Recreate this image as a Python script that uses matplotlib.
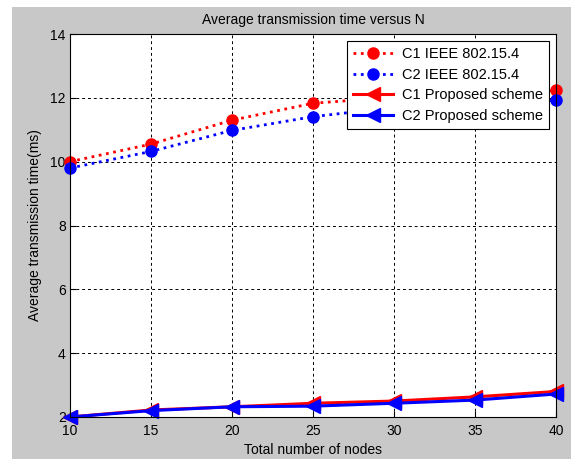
import matplotlib
matplotlib.use("Agg")
import matplotlib.pyplot as plt
from matplotlib.patches import Rectangle

plt.rcParams['font.family'] = ['Liberation Sans', 'DejaVu Sans']

nodes = [10, 15, 20, 25, 30, 35, 40]
c1_ieee = [10.0, 10.55, 11.3, 11.83, 12.02, 12.12, 12.23]
c2_ieee = [9.8, 10.32, 10.98, 11.41, 11.7, 11.82, 11.92]
c1_prop = [2.0, 2.22, 2.32, 2.43, 2.5, 2.63, 2.8]
c2_prop = [2.0, 2.2, 2.32, 2.34, 2.43, 2.53, 2.72]

fig = plt.figure(figsize=(5.71, 4.59), dpi=100)
fig.patch.set_facecolor('white')
# MATLAB style grey background, with a thin white strip top/left
fig.patches.append(Rectangle((12 / 571, 0), 1, 1 - 7 / 459, transform=fig.transFigure,
                             facecolor='#c8c8c8', edgecolor='none', zorder=-10))

ax = fig.add_axes([70 / 571, 42 / 459, 486 / 571, 383 / 459])
ax.set_facecolor('white')

ax.plot(nodes, c1_ieee, ':', color='red', lw=2, marker='o', ms=8, clip_on=False, label='C1 IEEE 802.15.4')
ax.plot(nodes, c2_ieee, ':', color='blue', lw=2, marker='o', ms=8, clip_on=False, label='C2 IEEE 802.15.4')
ax.plot(nodes, c1_prop, '-', color='red', lw=2.2, marker='<', ms=10, clip_on=False, label='C1 Proposed scheme')
ax.plot(nodes, c2_prop, '-', color='blue', lw=2.2, marker='<', ms=10, clip_on=False, label='C2 Proposed scheme')

ax.set_xlim(10, 40)
ax.set_ylim(2, 14)
ax.set_xticks(range(10, 41, 5))
ax.set_yticks(range(2, 15, 2))
ax.grid(True, color='black', linestyle=(0, (3, 3)), linewidth=0.7)
ax.tick_params(direction='in', length=4, labelsize=10, colors='black')
ax.tick_params(axis='x', pad=5)
ax.tick_params(axis='y', pad=3)
for s in ax.spines.values():
    s.set_linewidth(0.8)

ax.set_title('Average transmission time versus N', fontsize=10, pad=7)
ax.set_xlabel('Total number of nodes', fontsize=10, labelpad=4)
ax.set_ylabel('Average transmission time(ms)', fontsize=10, labelpad=6)

leg = ax.legend(loc='upper right', fontsize=10.5, fancybox=False, framealpha=1,
                edgecolor='black', handlelength=2.75, labelspacing=0.45,
                borderaxespad=0.5, handletextpad=0.6, borderpad=0.4)
leg.get_frame().set_linewidth(0.8)
leg.set_zorder(10)

fig.savefig('out.png', dpi=100)
